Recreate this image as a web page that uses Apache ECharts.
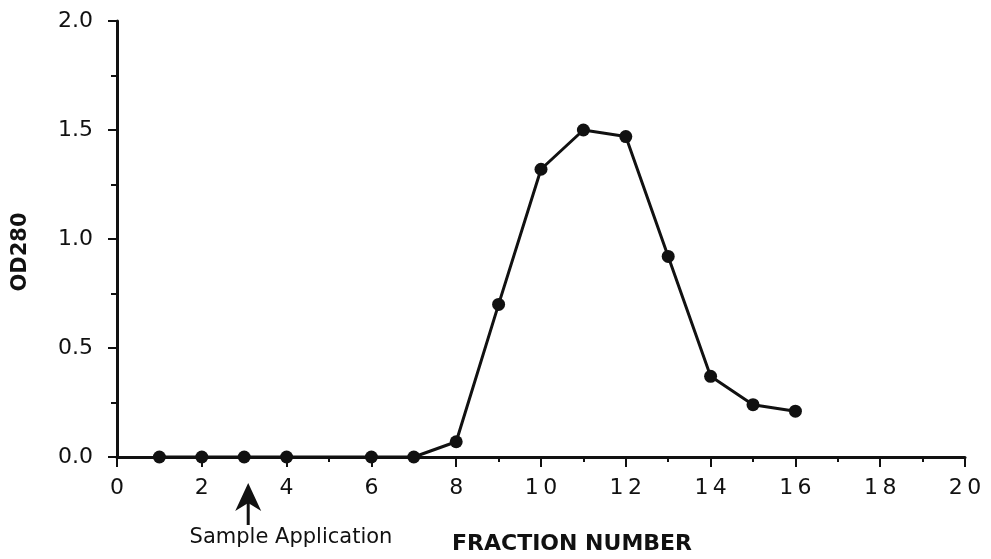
<!DOCTYPE html>
<html>
<head>
<meta charset="utf-8">
<script src="https://cdn.jsdelivr.net/npm/echarts@6/dist/echarts.min.js"></script>
<style>
  html, body { margin: 0; padding: 0; background: #fff; }
  #chart { width: 991px; height: 559px; }
</style>
</head>
<body>
<div id="chart"></div>
<script>
// Elution profile: absorbance at 280 nm per collected fraction
const fractions = [1, 2, 3, 4, 6, 7, 8, 9, 10, 11, 12, 13, 14, 15, 16];
const od280 = [0.0, 0.0, 0.0, 0.0, 0.0, 0.0, 0.07, 0.70, 1.32, 1.50, 1.47, 0.92, 0.37, 0.24, 0.21];

// Fraction at which the sample was applied
const sampleFraction = 3;

// Axis ranges and tick steps
const xRange = [0, 20];
const xStep = 2;
const yRange = [0, 2];
const yStep = 0.5;

const font = '"DejaVu Sans", Verdana, sans-serif';
const ink = '#111';

const chart = echarts.init(document.getElementById('chart'));

chart.setOption({
  animation: false,
  backgroundColor: '#fff',
  grid: { left: 117, right: 26, top: 21, bottom: 102 },
  xAxis: {
    type: 'value',
    min: xRange[0], max: xRange[1], interval: xStep,
    axisLine: { show: true, lineStyle: { color: ink, width: 3 } },
    axisTick: { show: true, length: 10, lineStyle: { color: ink, width: 2 } },
    minorTick: { show: true, splitNumber: 2, length: 5, lineStyle: { color: ink, width: 2 } },
    splitLine: { show: false },
    axisLabel: {
      margin: 20,
      color: ink,
      fontFamily: font,
      fontSize: 22,
      formatter: v => String(v).split('').join('\u2009')
    }
  },
  yAxis: {
    type: 'value',
    min: yRange[0], max: yRange[1], interval: yStep,
    axisLine: { show: true, lineStyle: { color: ink, width: 3 } },
    axisTick: { show: true, length: 9, lineStyle: { color: ink, width: 2 } },
    minorTick: { show: true, splitNumber: 2, length: 6, lineStyle: { color: ink, width: 2 } },
    splitLine: { show: false },
    axisLabel: {
      margin: 24,
      color: ink,
      fontFamily: font,
      fontSize: 22,
      formatter: v => v.toFixed(1)
    }
  },
  series: [{
    type: 'line',
    data: fractions.map((f, i) => [f, od280[i]]),
    symbol: 'circle',
    symbolSize: 13,
    lineStyle: { color: ink, width: 3 },
    itemStyle: { color: ink },
    z: 5
  }]
});

// Arrow marking sample application, plus axis captions
const p = chart.convertToPixel({ gridIndex: 0 }, [sampleFraction, 0]);
const ax = p[0] + 4;
chart.setOption({
  graphic: [
    {
      type: 'line',
      shape: { x1: ax, y1: 500, x2: ax, y2: 525 },
      style: { stroke: ink, lineWidth: 3 }
    },
    {
      type: 'polygon',
      shape: { points: [[ax, 483], [ax - 13, 511], [ax, 503], [ax + 13, 511]] },
      style: { fill: ink }
    },
    {
      type: 'text',
      x: 291, y: 538,
      style: {
        text: 'Sample Application', fill: ink,
        font: '21px ' + font, align: 'center', verticalAlign: 'middle'
      }
    },
    {
      type: 'text',
      x: 572, y: 544,
      style: {
        text: 'FRACTION NUMBER', fill: ink,
        font: 'bold 22px ' + font, align: 'center', verticalAlign: 'middle'
      }
    },
    {
      type: 'text',
      x: 21, y: 252,
      rotation: Math.PI / 2,
      style: {
        text: 'OD280', fill: ink,
        font: 'bold 21px ' + font, align: 'center', verticalAlign: 'middle'
      }
    }
  ]
});
</script>
</body>
</html>
